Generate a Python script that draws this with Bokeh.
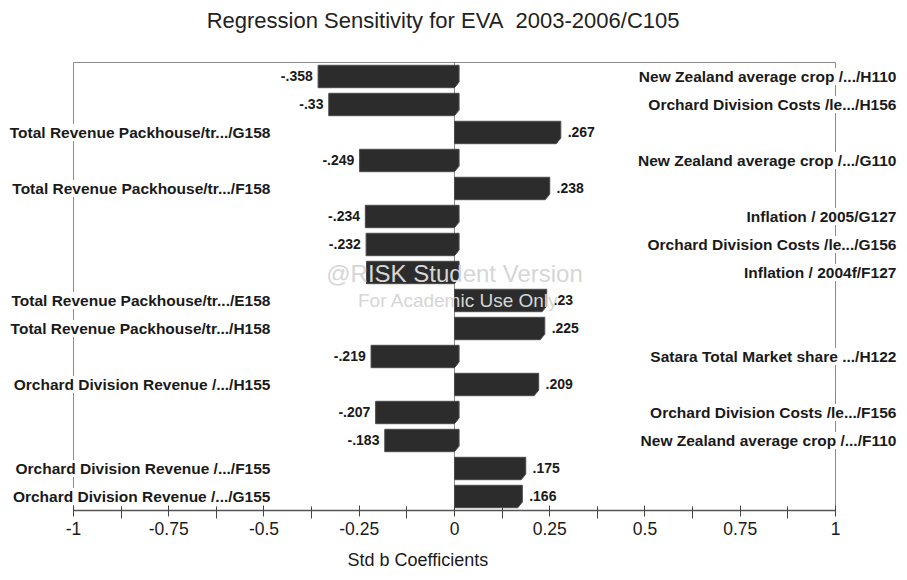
from bokeh.plotting import figure
from bokeh.models import Range1d, LinearAxis, FixedTicker, Title, ColumnDataSource
from bokeh.core.properties import value
from bokeh.embed import file_html
from bokeh.resources import INLINE

# ---------------- data ----------------
chart_title = "Regression Sensitivity for EVA\u00a0 2003-2006/C105"
x_title = "Std b Coefficients"

inputs = [
    "New Zealand average crop /.../H110",
    "Orchard Division Costs /le.../H156",
    "Total Revenue Packhouse/tr.../G158",
    "New Zealand average crop /.../G110",
    "Total Revenue Packhouse/tr.../F158",
    "Inflation / 2005/G127",
    "Orchard Division Costs /le.../G156",
    "Inflation / 2004f/F127",
    "Total Revenue Packhouse/tr.../E158",
    "Total Revenue Packhouse/tr.../H158",
    "Satara Total Market share .../H122",
    "Orchard Division Revenue /.../H155",
    "Orchard Division Costs /le.../F156",
    "New Zealand average crop /.../F110",
    "Orchard Division Revenue /.../F155",
    "Orchard Division Revenue /.../G155",
]
coefs = [-0.358, -0.33, 0.267, -0.249, 0.238, -0.234, -0.232, -0.231,
         0.23, 0.225, -0.219, 0.209, -0.207, -0.183, 0.175, 0.166]

tick_values = [-1, -0.75, -0.5, -0.25, 0, 0.25, 0.5, 0.75, 1]
tick_labels = ["-1", "-0.75", "-0.5", "-0.25", "0", "0.25", "0.5", "0.75", "1"]
minor_values = [-0.875, -0.625, -0.375, -0.125, 0.125, 0.375, 0.625, 0.875]
watermark = ["@RISK Student Version", "For Academic Use Only"]
hidden_label_row = 7  # value label covered by the watermark logo

# ---------------- helpers ----------------
def fmt(v):
    s = f"{v:.3f}".rstrip("0").rstrip(".")
    return s.replace("0.", ".", 1)

FONT = "Liberation Sans"
n = len(coefs)
ys = [-i for i in range(n)]

p = figure(width=907, height=580, output_backend="svg", toolbar_location=None,
           x_range=Range1d(-1.1916, 1.189), y_range=Range1d(-15.5, 2.714),
           x_axis_type=None, y_axis_type=None,
           min_border_left=0, min_border_right=0, min_border_top=0, min_border_bottom=70)
p.outline_line_color = None
p.background_fill_color = "white"
p.border_fill_color = "white"

# frame lines
p.segment(x0=[-1, -1, 1, 0], y0=[0.5, 0.5, 0.5, 0.5],
          x1=[1, -1, 1, 0], y1=[0.5, -15.5, -15.5, -15.5],
          line_color="#8a8a8a", line_width=1)

# bars (3D-like with bevelled right end)
depth = 0.012
cut_x = 0.012
cut_y = 0.2
half = 0.4
xs_p, ys_p = [], []
for v, y in zip(coefs, ys):
    x0 = min(0.0, v)
    x1 = max(0.0, v) + depth
    top, bot = y + half, y - half
    xs_p.append([x0, x1, x1, x1 - cut_x, x0])
    ys_p.append([top, top, bot + cut_y, bot, bot])
p.patches(xs_p, ys_p, fill_color="#2c2c2c", line_color="#4a4a4a", line_width=1)

# input names: negative -> right side, positive -> left side
lx, ly, lt = [], [], []
rx, ry, rt = [], [], []
for name, v, y in zip(inputs, coefs, ys):
    if v >= 0:
        lx.append(-0.483); ly.append(y); lt.append(name)
    else:
        rx.append(1.160); ry.append(y); rt.append(name)
common = dict(text_baseline="middle", text_font=value(FONT), text_font_style="bold",
              text_font_size="15.5px", text_color="#1a1a1a",
              background_fill_color="white")
p.text(x=lx, y=ly, text=lt, text_align="right", **common)
p.text(x=rx, y=ry, text=rt, text_align="right", **common)

# value labels
vx, vy, vt, va, vc = [], [], [], [], []
for i, (v, y) in enumerate(zip(coefs, ys)):
    vy.append(y)
    vt.append(fmt(v))
    if v < 0:
        vx.append(v - 0.014); va.append("right")
    else:
        vx.append(v + 0.03); va.append("left")
    vc.append("white" if i == hidden_label_row else "#1a1a1a")
src = ColumnDataSource(dict(x=vx, y=vy, t=vt, a=va, c=vc))
p.text(x="x", y="y", text="t", text_align="a", text_color="c", source=src,
       text_baseline="middle", text_font=value(FONT), text_font_style="bold",
       text_font_size="14px")

# watermark
p.text(x=[0.0, 0.01], y=[-7.04, -8.0], text=watermark, text_align="center",
       text_baseline="middle", text_font=value(FONT),
       text_font_size=["24px", "19px"], text_color="#d6d6d6")

# title
p.text(x=[-0.030], y=[2.0], text=[chart_title], text_align="center",
       text_baseline="middle", text_font=value(FONT), text_font_size="22px",
       text_color="#222222")

# x axis
ax = LinearAxis(bounds=(-1, 1))
ax.ticker = FixedTicker(ticks=tick_values, minor_ticks=minor_values)
ax.major_label_overrides = {float(t): l for t, l in zip(tick_values, tick_labels)}
ax.major_label_overrides.update({int(t): l for t, l in zip(tick_values, tick_labels) if float(t).is_integer()})
ax.axis_line_color = "#555555"
ax.axis_line_width = 1.5
ax.major_tick_line_color = "#444444"
ax.minor_tick_line_color = "#444444"
ax.major_tick_in = 5
ax.major_tick_out = 6
ax.minor_tick_in = 4
ax.minor_tick_out = 8
ax.major_label_standoff = 3
ax.major_label_text_font = FONT
ax.major_label_text_font_size = "17.5px"
ax.major_label_text_color = "#1a1a1a"
p.add_layout(ax, "below")

p.add_layout(Title(text=x_title, align="left", offset=347, standoff=21,
                   vertical_align="bottom", text_font=FONT,
                   text_font_size="18px", text_font_style="normal",
                   text_color="#1a1a1a"), "below")

open("out.html", "w").write(file_html(p, INLINE))
